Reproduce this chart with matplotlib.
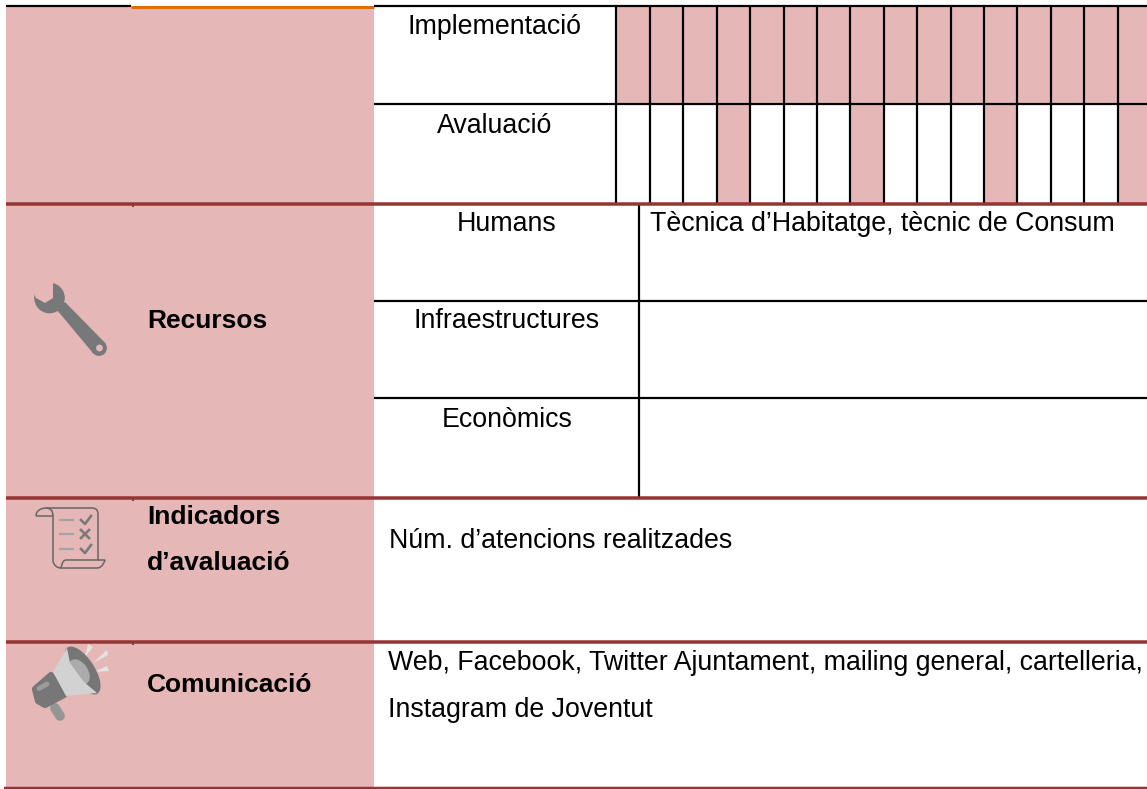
import matplotlib
matplotlib.use("Agg")
import matplotlib.pyplot as plt
from matplotlib.patches import Rectangle, Circle, Polygon, Ellipse, PathPatch
from matplotlib.path import Path

# ---- content ----
impl_flags = [1] * 16
aval_flags = [0, 0, 0, 1, 0, 0, 0, 1, 0, 0, 0, 1, 0, 0, 0, 1]
phase_labels = ["Implementació", "Avaluació"]
resource_labels = ["Humans", "Infraestructures", "Econòmics"]
resource_text = "Tècnica d’Habitatge, tècnic de Consum"
section_labels = ["Recursos", "Indicadors\nd’avaluació", "Comunicació"]
indicator_text = "Núm. d’atencions realitzades"
comm_lines = ["Web, Facebook, Twitter Ajuntament, mailing general, cartelleria,",
              "Instagram de Joventut"]

# ---- style ----
PINK, RED, ORANGE, BLACK, GREY = "#e5b8b7", "#943634", "#e36c0a", "#000000", "#77787a"
FONT = "Liberation Sans"
FS = 19.25
FS_BOLD = 19.0

fig = plt.figure(figsize=(11.47, 7.89), dpi=100, facecolor="white")
ax = fig.add_axes([0, 0, 1, 1])
ax.set_xlim(0, 1147)
ax.set_ylim(789, 0)
ax.axis("off")

# layout in pixels
X_L, X_MID, X_C, X_G0, DX, X_R, X_SPLIT = 6, 131, 374, 616.4, 33.42, 1147, 639
Y_TOP, Y_ROW, Y_R1, Y_H1, Y_H2, Y_R2, Y_R3, Y_BOT = 6, 104, 204, 300.7, 398, 498, 641.7, 787.7


def hline(y, x0, x1, color=BLACK, px=2.2, z=5):
    ax.plot([x0, x1], [y, y], color=color, lw=px * 0.72, solid_capstyle="butt", zorder=z)


def vline(x, y0, y1, color=BLACK, px=2.2, z=4):
    ax.plot([x, x], [y0, y1], color=color, lw=px * 0.72, solid_capstyle="butt", zorder=z)


def label(x, y, s, ha="left", bold=False):
    ax.text(x, y, s, ha=ha, va="baseline", fontsize=FS_BOLD if bold else FS, family=FONT,
            fontweight="bold" if bold else "normal", color="#000000", zorder=10)


# left pink column
ax.add_patch(Rectangle((X_L, Y_TOP), X_C - X_L, Y_BOT - Y_TOP, fc=PINK, ec="none", zorder=1))

# month cells
for row, flags, y0, y1 in ((0, impl_flags, Y_TOP, Y_ROW), (1, aval_flags, Y_ROW, Y_R1)):
    for i, f in enumerate(flags):
        x0 = X_G0 + i * DX
        x1 = min(x0 + DX, X_R)
        if f:
            ax.add_patch(Rectangle((x0, y0), x1 - x0, y1 - y0, fc=PINK, ec="none", zorder=2))
for i in range(len(impl_flags)):
    vline(X_G0 + i * DX, Y_TOP, Y_R1)

# horizontal rules
hline(Y_TOP, X_L, X_MID)
hline(Y_TOP + 1, X_MID, X_C, ORANGE, 3)
hline(Y_TOP, X_C, X_R)
hline(Y_ROW, X_C, X_R)
hline(Y_H1, X_C, X_R)
hline(Y_H2, X_C, X_R)
vline(X_SPLIT, Y_R1, Y_R2)
for y in (Y_R1, Y_R2, Y_R3):
    hline(y, X_L, X_R, RED, 3.5, 6)
    vline(X_MID + 2, y, y + 3, RED, 2, 6)
hline(Y_BOT, 4, X_R, RED, 2.5, 6)

# text
label(495, 34, phase_labels[0], "center")
label(495, 132.7, phase_labels[1], "center")
for s, y in zip(resource_labels, (231, 328, 426.7)):
    label(507, y, s, "center")
label(650, 231, resource_text)
label(147, 328, section_labels[0], bold=True)
for s, y in zip(section_labels[1].split("\n"), (524, 570)):
    label(147, y, s, bold=True)
label(147, 692, section_labels[2], bold=True)
label(389, 547.7, indicator_text)
for s, y in zip(comm_lines, (670, 716.7)):
    label(388, y, s)

# ---- wrench icon ----
ax.add_patch(Circle((49.5, 298), 15.3, fc=GREY, ec="none", zorder=3))
ax.add_patch(Polygon([(57, 310), (65, 302), (104.6, 342.4), (93.4, 353.6)],
                     closed=True, fc=GREY, ec="none", zorder=3))
ax.add_patch(Circle((99, 348), 7.9, fc=GREY, ec="none", zorder=3))
ax.add_patch(Circle((99.5, 348), 3.4, fc=PINK, ec="none", zorder=4))
ax.add_patch(Polygon([(53, 287), (53, 298), (45, 303), (36, 298), (30, 285), (46, 277), (53, 280)],
                     closed=True, fc=PINK, ec="none", zorder=4))

# ---- checklist scroll icon ----
STK = "#666666"
scroll = Path(
    [(36, 516), (36, 510), (42, 508), (46, 508), (92, 508), (98, 508), (98, 514),
     (98, 560), (66, 560), (62, 560), (61, 568), (61, 568),
     (97, 568), (103, 568), (105, 560), (105, 560), (98, 560)],
    [Path.MOVETO, Path.CURVE4, Path.CURVE4, Path.CURVE4, Path.LINETO, Path.CURVE3, Path.CURVE3,
     Path.LINETO, Path.LINETO, Path.CURVE4, Path.CURVE4, Path.CURVE4,
     Path.LINETO, Path.CURVE4, Path.CURVE4, Path.CURVE4, Path.LINETO])
ax.add_patch(PathPatch(scroll, fc="none", ec=STK, lw=1.1, zorder=3))
body = Path([(46, 508), (53, 508), (53, 516), (53, 560), (53, 565), (57, 568), (61, 568)],
            [Path.MOVETO, Path.CURVE3, Path.CURVE3, Path.LINETO, Path.CURVE4, Path.CURVE4, Path.CURVE4])
ax.add_patch(PathPatch(body, fc="none", ec=STK, lw=1.1, zorder=3))
hline(516, 36, 53, STK, 1.5, 3)
for y, mark in ((520, "check"), (534, "x"), (549, "check")):
    hline(y, 59, 74, "#a3a3a3", 2.2, 3)
    if mark == "check":
        ax.plot([81, 85, 91], [y, y + 4, y - 4], color="#7a7a7a", lw=1.9, zorder=3)
    else:
        ax.plot([81, 89], [y - 4, y + 4], color="#7a7a7a", lw=1.9, zorder=3)
        ax.plot([81, 89], [y + 4, y - 4], color="#7a7a7a", lw=1.9, zorder=3)

# ---- megaphone icon ----
ax.plot([55, 60], [708, 716], color="#959595", lw=7, solid_capstyle="round", zorder=3)
ax.add_patch(Polygon([(35, 689), (51, 675), (64, 695), (45, 705), (38, 701)], closed=True,
                     fc="#777777", ec="#777777", lw=4.5, joinstyle="round", zorder=4))
ax.plot([39, 47], [688.5, 684], color="#9c9c9c", lw=3.5, solid_capstyle="round", zorder=5)
ax.add_patch(Ellipse((82.5, 670.5), 24, 55, angle=-33, fc="#767676", ec="none", zorder=6))
ax.add_patch(Ellipse((79, 672), 18, 28, angle=-33, fc="#ababab", ec="none", zorder=7))
ax.add_patch(Polygon([(67, 648), (70, 663), (84, 682), (97, 693), (66, 696), (53, 672)], closed=True,
                     fc="#d2d2d2", ec="none", zorder=8))
for pts in ([(88, 644), (93, 647), (85, 657)],
            [(107, 650), (108, 655), (93, 663)],
            [(107, 666), (109, 671), (94, 672)]):
    ax.add_patch(Polygon(pts, closed=True, fc="#e3e3e3", ec="none", zorder=4))

fig.savefig("out.png", dpi=100, facecolor="white")
